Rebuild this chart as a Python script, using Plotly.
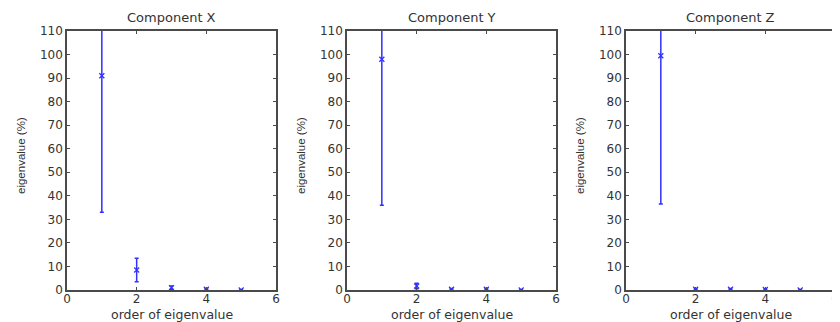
import plotly.graph_objects as go

orders = [1, 2, 3, 4, 5]
titles = ["Component X", "Component Y", "Component Z"]
vals_x = [91.0, 8.5, 1.0, 0.3, 0.0]
err_x = [58.0, 5.0, 0.7, 0.3, 0.2]
vals_y = [98.0, 1.7, 0.3, 0.3, 0.0]
err_y = [62.0, 1.2, 0.3, 0.3, 0.2]
vals_z = [99.5, 0.3, 0.3, 0.2, 0.0]
err_z = [63.0, 0.3, 0.3, 0.2, 0.2]
y_ticks = list(range(0, 111, 10))
x_ticks = [0, 2, 4, 6]
x_title = "order of eigenvalue"
y_title = "eigenvalue (%)"

series = [(vals_x, err_x), (vals_y, err_y), (vals_z, err_z)]

W, H = 840, 322
OFF = 8  # page body margin of the browser
lefts = [67 - OFF, 347 - OFF, 626 - OFF]
pw = 209
top, bottom = 31 - OFF, 290 - OFF

fig = go.Figure()
tfont = "DejaVu Sans, sans-serif"
lfont = "Liberation Sans, Arial, sans-serif"
txt = "#333333"
blue = "#3030ff"
axcol = "#4a4a4a"


def px(x):
    return x / W


def py(y):
    return 1 - y / H


for i, (vals, errs) in enumerate(series):
    xa = "x" if i == 0 else f"x{i+1}"
    ya = "y" if i == 0 else f"y{i+1}"
    fig.add_trace(go.Scatter(
        x=orders, y=vals, mode="markers", xaxis=xa, yaxis=ya,
        marker=dict(symbol="x-thin", size=5, line=dict(color=blue, width=1.2), color=blue),
        error_y=dict(type="data", array=errs, visible=True, color=blue, thickness=1.5, width=2),
        showlegend=False, cliponaxis=True,
    ))
    xd = [px(lefts[i]), px(lefts[i] + pw)]
    yd = [py(bottom), py(top)]
    axcommon = dict(showline=True, linecolor=axcol, linewidth=1.5, mirror="ticks",
                    ticks="inside", ticklen=3, tickcolor=axcol, tickwidth=1.2, showgrid=False,
                    zeroline=False, automargin=False,
                    tickfont=dict(family=tfont, size=12, color=txt))
    fig.layout[("xaxis" if i == 0 else f"xaxis{i+1}")] = dict(
        domain=xd, range=[0, 6], tickvals=x_ticks, anchor=ya, ticklabelstandoff=-3,
        **axcommon)
    fig.layout[("yaxis" if i == 0 else f"yaxis{i+1}")] = dict(
        domain=yd, range=[0, 110], tickvals=y_ticks, anchor=xa, **axcommon)
    cx = lefts[i] + pw / 2
    common = dict(xref="paper", yref="paper", showarrow=False,
                  xanchor="center", yanchor="middle")
    fig.add_annotation(text=titles[i], x=px(cx), y=py(17 - OFF),
                       font=dict(family=tfont, size=13, color=txt), **common)
    fig.add_annotation(text=x_title, x=px(cx), y=py(314 - OFF),
                       font=dict(family=tfont, size=12.5, color=txt), **common)
    fig.add_annotation(text=y_title, x=px(lefts[i] - 46), y=py(156 - OFF), textangle=-90,
                       font=dict(family=lfont, size=11.5, color=txt), **common)

fig.update_layout(width=W, height=H, margin=dict(l=0, r=0, t=0, b=0, autoexpand=False),
                  plot_bgcolor="white", paper_bgcolor="white")
fig.write_html("out.html")
